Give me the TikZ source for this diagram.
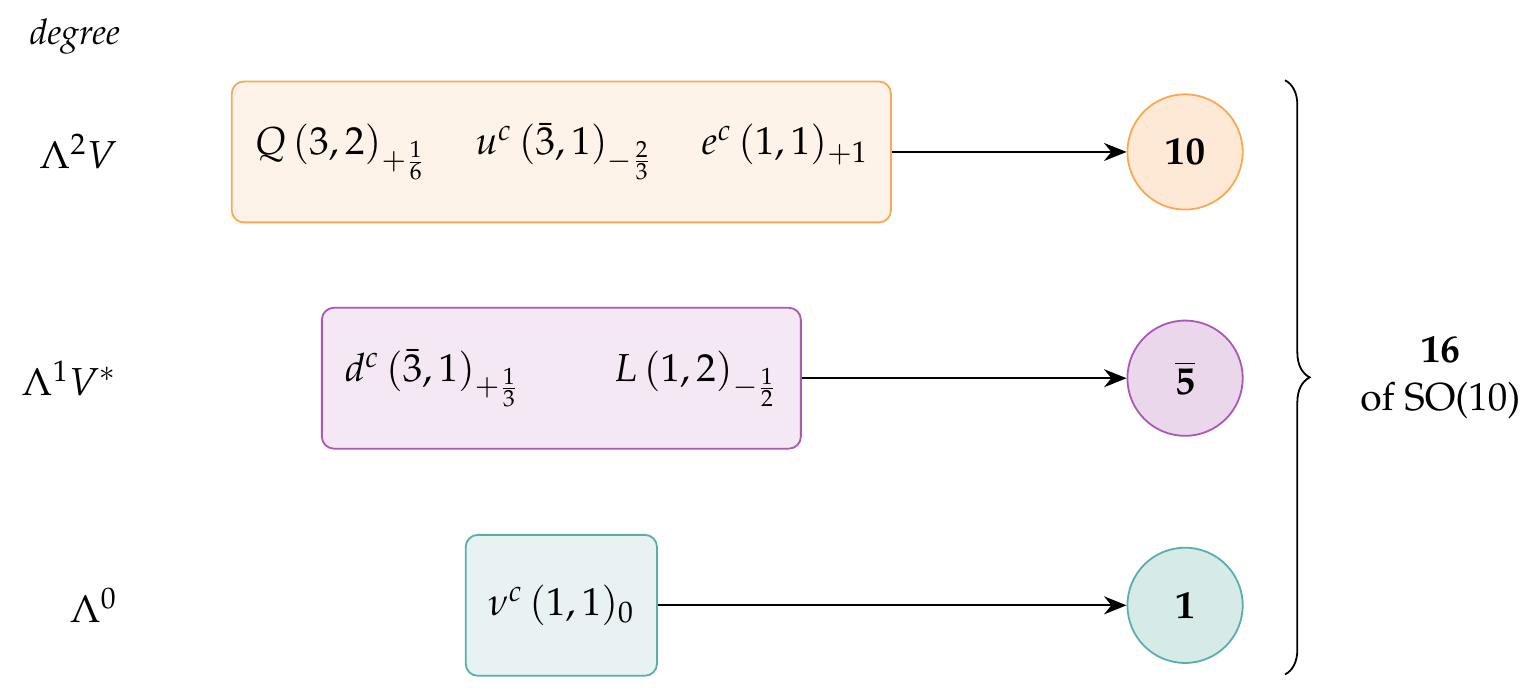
\documentclass[tikz,border=0pt]{standalone}
\usepackage{amsmath}
\usepackage{amssymb}
\usepackage[T1]{fontenc}
\usepackage{mathpazo}
\usepackage[dvipsnames]{xcolor}
\usepackage{tikz}
\usetikzlibrary{calc}
\usetikzlibrary{arrows.meta}
\usetikzlibrary{positioning}
\usetikzlibrary{decorations.pathreplacing}
\definecolor{color_ten_line}{HTML}{F9A952}
\definecolor{color_ten_box}{HTML}{FEF3E9}
\definecolor{color_ten_rep}{HTML}{FEE9D6}
\definecolor{color_five_line}{HTML}{AB58B2}
\definecolor{color_five_box}{HTML}{F3E8F3}
\definecolor{color_five_rep}{HTML}{EBD7EB}
\definecolor{color_one_line}{HTML}{5AAFAC}
\definecolor{color_one_box}{HTML}{E8F2F3}
\definecolor{color_one_rep}{HTML}{D6EAE8}

\begin{document}
\begin{tikzpicture}[node distance=1.4cm, align=center, font=\fontsize{13}{16}\selectfont]
  \tikzset{ % Specifications for style of nodes:
      degree/.style = {anchor=east, inner sep=0pt},
      base/.style = {rectangle, rounded corners=4pt, line width=0.6pt, minimum height=1.65cm, text centered},
      rep/.style = {circle, line width=0.6pt, minimum size=1.35cm, inner sep=0pt},
      ten/.style = {base, draw=color_ten_line, fill=color_ten_box, minimum width=7.72cm},
      five/.style = {base, draw=color_five_line, fill=color_five_box, minimum width=5.61cm},
      one/.style = {base, draw=color_one_line, fill=color_one_box, minimum width=2.24cm},
      tenrep/.style = {rep, draw=color_ten_line, fill=color_ten_rep},
      fiverep/.style = {rep, draw=color_five_line, fill=color_five_rep},
      onerep/.style = {rep, draw=color_one_line, fill=color_one_rep},
      map/.style = {line width=0.6pt, -{Stealth[length=7.5pt, width=6pt]}},
  }
  \useasboundingbox (0,0) rectangle (17.85,8.15);

  \node (deg) [degree, font=\fontsize{11.8}{14}\selectfont] at (1.41,7.72) {\textit{degree}};
  \node (lamtwo) [degree] at (1.38,6.37) {$\Lambda^2 V$};
  \node (lamone) [degree] at (1.38,3.72) {$\Lambda^1 V^*$};
  \node (lamzero) [degree] at (1.38,1.06) {$\Lambda^0$};

  \node (tenbox) [ten] at (6.575,6.37) {$Q\,(3,2)_{+\frac{1}{6}}$\quad\ $u^c\,(\bar{3},1)_{-\frac{2}{3}}$\quad\ $e^c\,(1,1)_{+1}$};
  \node (fivebox) [five] at (6.575,3.72) {$d^c\,(\bar{3},1)_{+\frac{1}{3}}$\hspace{2.4em}$L\,(1,2)_{-\frac{1}{2}}$};
  \node (onebox) [one] at (6.575,1.06) {$\nu^c\,(1,1)_0$};

  \node (tenrep) [tenrep] at (13.88,6.37) {$\mathbf{10}$};
  \node (fiverep) [fiverep] at (13.88,3.72) {$\overline{\mathbf{5}}$};
  \node (onerep) [onerep] at (13.88,1.06) {$\mathbf{1}$};

  \draw[map] (tenbox) -- (tenrep);
  \draw[map] (fivebox) -- (fiverep);
  \draw[map] (onebox) -- (onerep);

  \coordinate (bracetop) at (15.05,7.21);
  \coordinate (bracebot) at (15.05,0.25);
  \draw[line width=0.6pt, decorate, decoration={brace, amplitude=0.29cm}] (bracetop) -- (bracebot);
  \node (spinor) at (16.87,3.73) {\textbf{16}\\ of SO(10)};
\end{tikzpicture}
\end{document}
